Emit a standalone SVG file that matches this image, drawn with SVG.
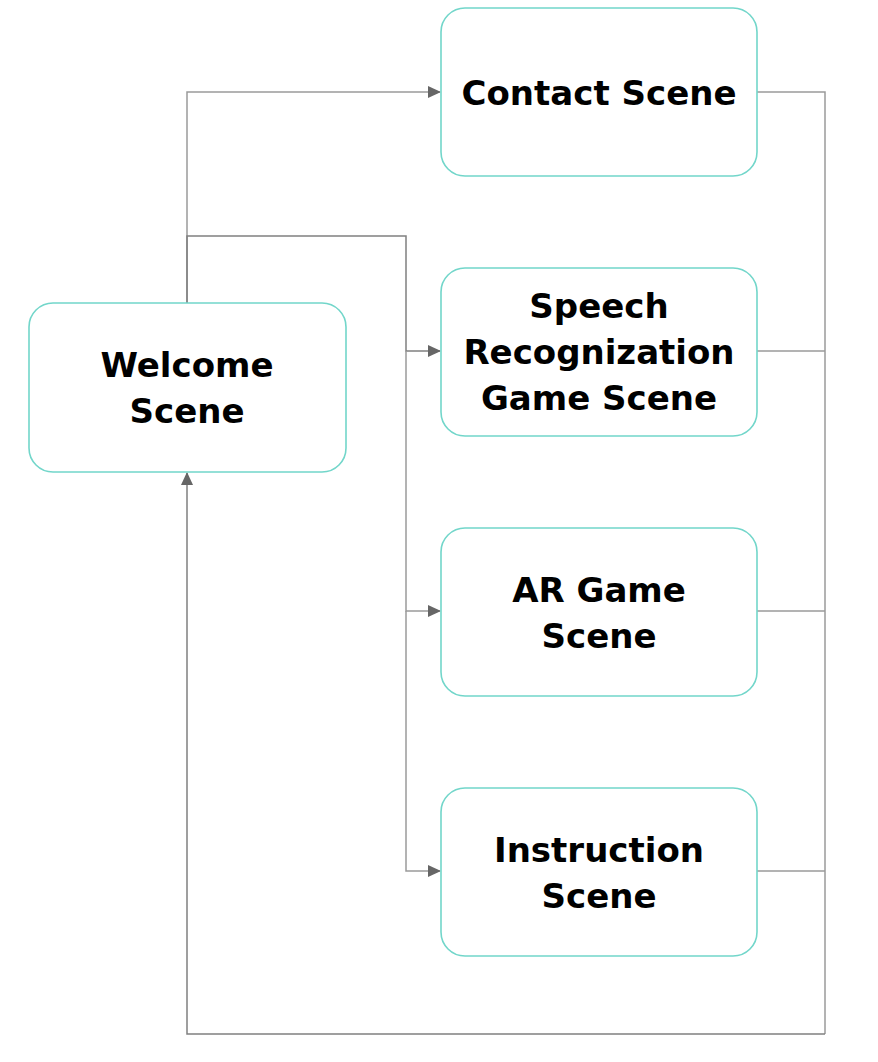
<svg xmlns="http://www.w3.org/2000/svg" width="878" height="1062" viewBox="0 0 878 1062">
<style>
.box{fill:#fff;stroke:#72d6ca;stroke-width:1.6}
.lbl{font-family:"DejaVu Sans",sans-serif;font-weight:bold;font-size:34px;fill:#000;text-anchor:middle}
.c{fill:none;stroke:#9a9a9a;stroke-width:1.5}
.d{fill:none;stroke:#808080;stroke-width:1.5}
</style>
<defs>
<marker id="ah" markerWidth="14" markerHeight="14" refX="12" refY="7" orient="auto" markerUnits="userSpaceOnUse">
<path d="M0,1 L13,7 L0,13 Z" fill="#666"/>
</marker>
</defs>
<rect width="878" height="1062" fill="#fff"/>
<g id="connectors">
<path class="c" d="M187,303 V92 H440" marker-end="url(#ah)"/>
<path class="d" d="M187,303 V236 H406 V351 H440" marker-end="url(#ah)"/>
<path class="c" d="M406,351 V611 H440" marker-end="url(#ah)"/>
<path class="c" d="M406,611 V871 H440" marker-end="url(#ah)"/>
<path class="c" d="M757,92 H825 V1034"/>
<path class="c" d="M757,351 H825"/>
<path class="c" d="M757,611 H825"/>
<path class="c" d="M757,871 H825"/>
<path class="d" d="M825,1034 H187 V473" marker-end="url(#ah)"/>
</g>
<g id="contact">
<rect class="box" x="441" y="8" width="316" height="168" rx="24"/>
<text class="lbl" x="599" y="105">Contact Scene</text>
</g>
<g id="speech">
<rect class="box" x="441" y="268" width="316" height="168" rx="24"/>
<text class="lbl" x="599" y="318">Speech</text>
<text class="lbl" x="599" y="364">Recognization</text>
<text class="lbl" x="599" y="410">Game Scene</text>
</g>
<g id="ar">
<rect class="box" x="441" y="528" width="316" height="168" rx="24"/>
<text class="lbl" x="599" y="602">AR Game</text>
<text class="lbl" x="599" y="648">Scene</text>
</g>
<g id="instruction">
<rect class="box" x="441" y="788" width="316" height="168" rx="24"/>
<text class="lbl" x="599" y="862">Instruction</text>
<text class="lbl" x="599" y="908">Scene</text>
</g>
<g id="welcome">
<rect class="box" x="29" y="303" width="317" height="169" rx="24"/>
<text class="lbl" x="187" y="377">Welcome</text>
<text class="lbl" x="187" y="423">Scene</text>
</g>
</svg>
